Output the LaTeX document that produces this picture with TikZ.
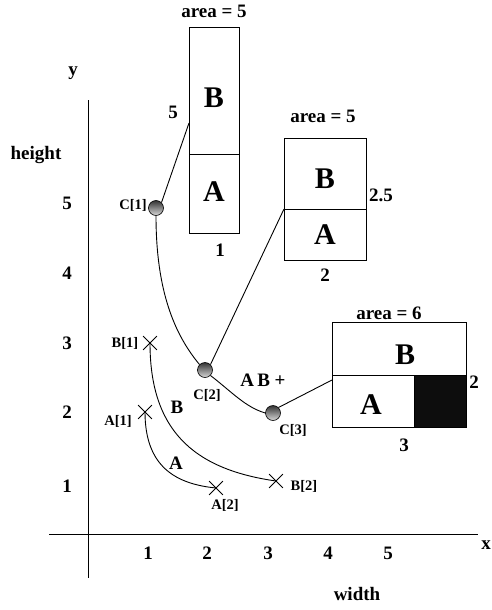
\documentclass[tikz,border=0pt]{standalone}
\usepackage{fontspec}
\setmainfont{Liberation Serif}
\usetikzlibrary{shapes.misc,calc}
\begin{document}
\begin{tikzpicture}[x=1pt,y=-1pt,
  lbl/.style={font=\bfseries\fontsize{19}{19}\selectfont, inner sep=0pt},
  sml/.style={font=\bfseries\fontsize{14.5}{14.5}\selectfont, inner sep=0pt},
  big/.style={font=\bfseries\fontsize{30}{30}\selectfont, inner sep=0pt},
  part/.style={draw, line width=0.9pt, inner sep=0pt, anchor=north west},
  ball/.style={circle, draw, line width=0.6pt, minimum size=15pt, inner sep=0pt, left color=black!80, right color=black!15, shading angle=0},
  xmark/.style={cross out, draw, line width=0.8pt, minimum size=13pt, inner sep=0pt},
  curve/.style={line width=0.9pt}]
\useasboundingbox (0,0) rectangle (492,610);
% axes
\coordinate (yt) at (88,100); \coordinate (yb) at (88,578);
\coordinate (xl) at (49,534); \coordinate (xr) at (478,534);
\draw[line width=1pt] (yt) -- (yb);
\draw[line width=1pt] (xl) -- (xr);
\node[lbl] (ylab) at (73,73) {y};
\node[lbl] (xlab) at (486,545) {x};
\node[lbl] (hlab) at (36,155) {height};
\node[lbl] (wlab) at (357,594) {width};
\foreach \v/\yy in {5/203,4/273,3/343,2/412,1/486} \node[lbl] (yt\v) at (67,\yy) {\v};
\foreach \v/\xx in {1/148,2/207,3/268,4/328,5/388} \node[lbl] (xt\v) at (\xx,553) {\v};
% box 1
\node[part, minimum width=50pt, minimum height=127pt] (b1B) at (189,27) {};
\node[part, minimum width=50pt, minimum height=79pt] (b1A) at (189,154) {};
\node[big] (b1Bl) at (214,98) {B};
\node[big] (b1Al) at (214,192) {A};
\node[lbl] (b1ar) at (214,11) {area = 5};
\node[lbl] (b1h) at (173,112) {5};
\node[lbl] (b1w) at (220,250) {1};
% box 2
\node[part, minimum width=82pt, minimum height=71pt] (b2B) at (284,138) {};
\node[part, minimum width=82pt, minimum height=51pt] (b2A) at (284,209) {};
\node[big] (b2Bl) at (325,179) {B};
\node[big] (b2Al) at (325,235) {A};
\node[lbl] (b2ar) at (323,116) {area = 5};
\node[lbl] (b2h) at (381,195) {2.5};
\node[lbl] (b2w) at (325,275) {2};
% box 3
\node[part, minimum width=134pt, minimum height=53pt] (b3B) at (332,322) {};
\node[part, minimum width=82pt, minimum height=52pt] (b3A) at (332,375) {};
\node[part, minimum width=52pt, minimum height=52pt, fill=black!95] (b3X) at (414,375) {};
\node[big] (b3Bl) at (405,355) {B};
\node[big] (b3Al) at (371,405) {A};
\node[lbl] (b3ar) at (389,313) {area = 6};
\node[lbl] (b3h) at (474,382) {2};
\node[lbl] (b3w) at (404,445) {3};
% balls
\node[ball] (c1) at (156,208) {};
\node[ball] (c2) at (205,370) {};
\node[ball] (c3) at (273,413) {};
\node[sml] (c1l) at (133,205) {C[1]};
\node[sml] (c2l) at (207,395) {C[2]};
\node[sml] (c3l) at (293,430) {C[3]};
\node[lbl] (abp) at (263,380) {A\,B +};
% links to boxes
\coordinate (p1) at (189,123);
\coordinate (p3) at (332,380);
\draw[curve] (c1.north east) -- (p1);
\draw[curve] (c2.north east) -- (b2A.north west);
\draw[curve] (c3.north east) -- (p3);
% C curves
\draw[curve] (c1.south) .. controls +(0,75) and +(-25,-30) .. (c2.north west);
\draw[curve] (c2.south east) .. controls +(22,17) and +(-20,-6) .. (c3.west);
% crosses
\node[xmark] (b1x) at (150,343) {};
\node[xmark] (a1x) at (145,412) {};
\node[xmark] (a2x) at (216,488) {};
\node[xmark] (b2x) at (276,481) {};
\node[sml] (b1xl) at (125,343) {B[1]};
\node[sml] (a1xl) at (118,421) {A[1]};
\node[sml] (a2xl) at (225,505) {A[2]};
\node[sml] (b2xl) at (304,486) {B[2]};
\node[lbl] (Bc) at (177,407) {B};
\node[lbl] (Ac) at (176,463) {A};
\draw[curve] (a1x.center) .. controls +(0,55) and +(-40,-4) .. (a2x.center);
\draw[curve] (b1x.center) .. controls +(0,85) and +(-85,-12) .. (b2x.center);
\end{tikzpicture}
\end{document}
